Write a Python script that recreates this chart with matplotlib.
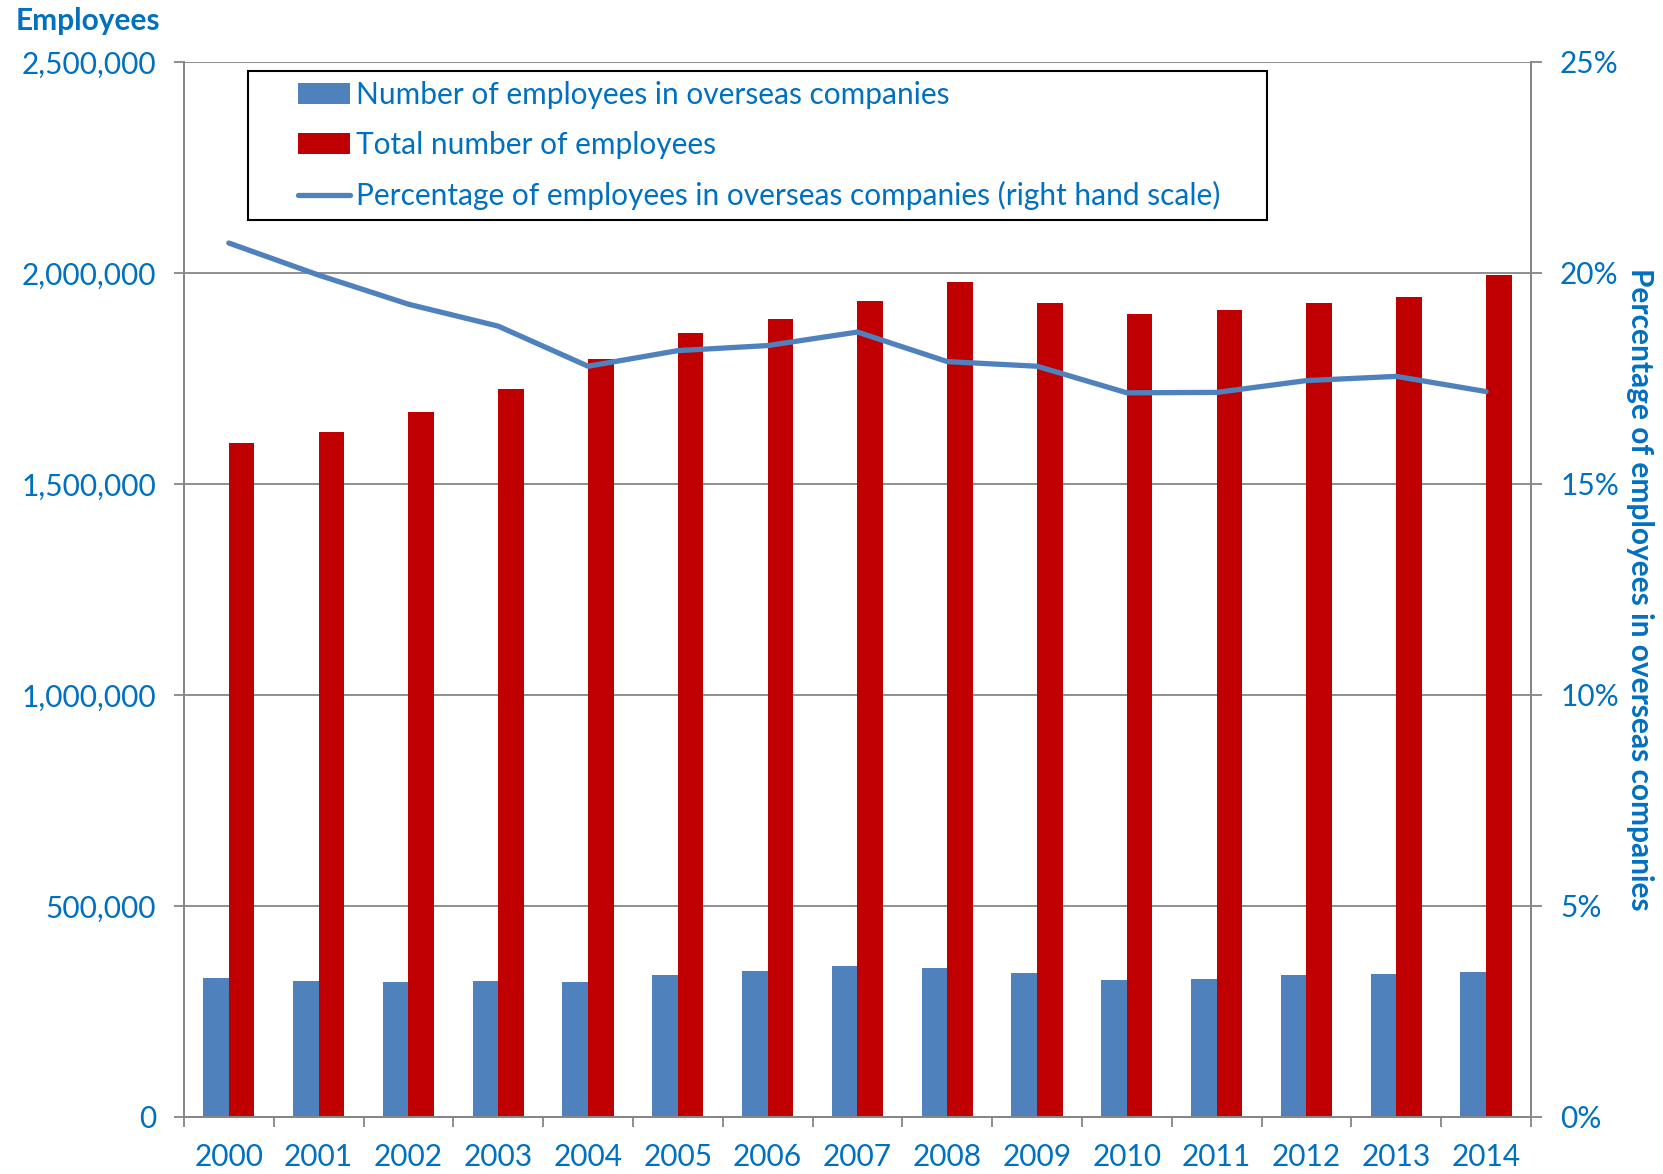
import numpy as np
import matplotlib
matplotlib.use('Agg')
import matplotlib.pyplot as plt
from matplotlib.patches import Rectangle
from matplotlib.ticker import FuncFormatter

plt.rcParams['font.family'] = ['Lato', 'DejaVu Sans']

years = ['2000', '2001', '2002', '2003', '2004', '2005', '2006', '2007',
         '2008', '2009', '2010', '2011', '2012', '2013', '2014']
overseas = [329000, 323000, 320000, 322000, 319000, 336000, 345000, 358000,
            353000, 342000, 325000, 328000, 336000, 339000, 343000]
total = [1597000, 1624000, 1671000, 1726000, 1797000, 1858000, 1892000, 1933000,
         1979000, 1930000, 1903000, 1913000, 1930000, 1944000, 1996000]
pct = [20.71, 19.95, 19.26, 18.74, 17.79, 18.16, 18.28, 18.60,
       17.90, 17.79, 17.16, 17.17, 17.45, 17.55, 17.19]

blue = '#4F81BD'
red = '#C00000'
txt = '#0070C0'
grey = '#868686'
fs = 21.5

fig = plt.figure(figsize=(16.63, 11.74), dpi=100)
ax = fig.add_axes([0.1106, 0.0486, 0.8100, 0.8986])
ax2 = ax.twinx()

x = np.arange(len(years))
w = 0.285
b1 = ax.bar(x - w / 2, overseas, w, color=blue, zorder=2,
            label='Number of employees in overseas companies')
b2 = ax.bar(x + w / 2, total, w, color=red, zorder=2,
            label='Total number of employees')
l1, = ax2.plot(x, [p / 100 for p in pct], color=blue, lw=3.8,
               solid_capstyle='round', solid_joinstyle='round',
               label='Percentage of employees in overseas companies (right hand scale)')

ax.set_xlim(-0.5, len(years) - 0.5)
ax.set_ylim(0, 2500000)
ax2.set_ylim(0, 0.25)
ax.set_yticks(np.arange(0, 2500001, 500000))
ax2.set_yticks(np.arange(0, 0.2501, 0.05))
ax.yaxis.set_major_formatter(FuncFormatter(lambda v, p: f'{int(v):,}'))
ax2.yaxis.set_major_formatter(FuncFormatter(lambda v, p: f'{v * 100:.0f}%'))

ax.grid(axis='y', color=grey, lw=1.3, zorder=0)
ax.set_axisbelow(True)

ax.set_xticks(x)
ax.set_xticklabels(years)
ax.set_xticks(np.arange(-0.5, len(years)), minor=True)
ax.tick_params(axis='x', which='major', length=0, pad=19, labelsize=fs, labelcolor=txt)
ax.tick_params(axis='x', which='minor', length=7, width=1.3, color=grey, direction='out')
ax.tick_params(axis='y', length=7, width=1.3, color=grey, pad=13, labelsize=fs, labelcolor=txt)
ax2.tick_params(axis='y', length=8, width=1.3, color=grey, pad=13, labelsize=fs, labelcolor=txt)

for a in (ax, ax2):
    a.spines['top'].set_visible(False)
    for s in ('left', 'right', 'bottom'):
        a.spines[s].set_color(grey)
        a.spines[s].set_linewidth(1.3)

fig.text(0.0096, 0.982, 'Employees', fontsize=fs, fontweight='bold', color=txt,
         ha='left', va='center')
ax2.set_ylabel('Percentage of employees in overseas companies', fontsize=fs,
               fontweight='bold', color=txt, rotation=-90, labelpad=25)

# legend frame drawn separately
fig.patches.append(Rectangle((247.5 / 1663, 1 - 219.5 / 1174),
                             (1267 - 247.5) / 1663, (219.5 - 70.7) / 1174,
                             transform=fig.transFigure, fill=False,
                             edgecolor='black', lw=1.5, zorder=5))
leg = ax2.legend([b1, b2, l1], [b1.get_label(), b2.get_label(), l1.get_label()],
                 loc='upper left', bbox_to_anchor=(298 / 1663, 1 - 81 / 1174),
                 bbox_transform=fig.transFigure, frameon=False, fontsize=fs,
                 labelcolor=txt, handlelength=1.75, handletextpad=0.2,
                 labelspacing=0.74, borderpad=0, borderaxespad=0)

fig.savefig('out.png', dpi=100)
